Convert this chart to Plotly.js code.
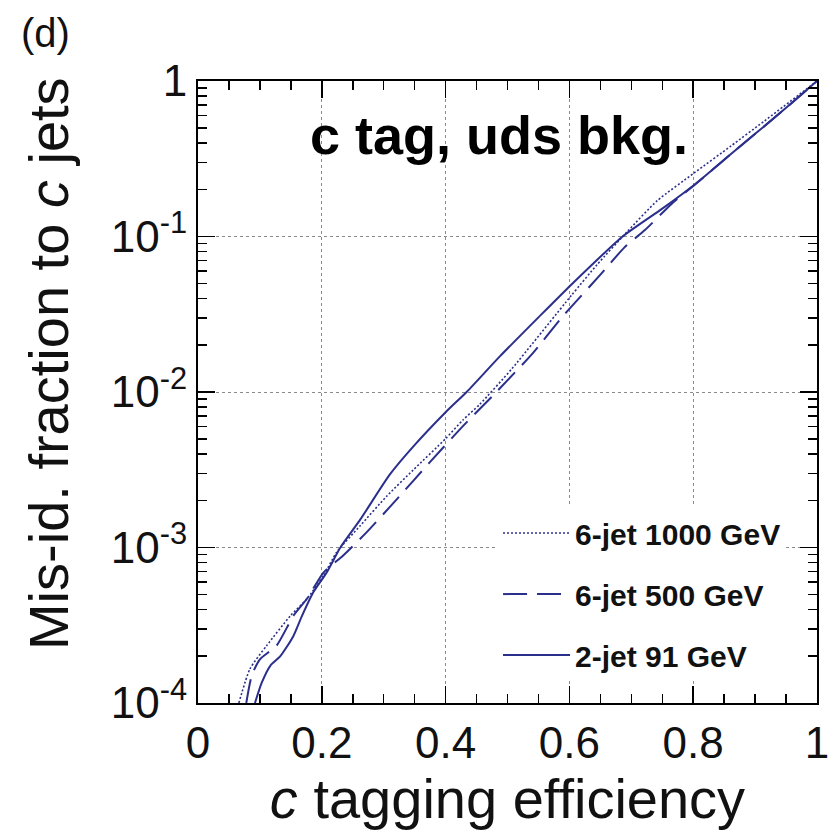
<!DOCTYPE html>
<html>
<head>
<meta charset="utf-8">
<script src="https://cdn.plot.ly/plotly-3.0.1.min.js"></script>
<style>html,body{margin:0;padding:0;background:#fff;}#chart{width:834px;height:834px;}</style>
</head>
<body>
<div id="chart"></div>
<script>
// ---- data ----
const seriesNames = ["6-jet 1000 GeV", "6-jet 500 GeV", "2-jet 91 GeV"];

const eff1000 = [0.066, 0.084, 0.111, 0.149, 0.176, 0.203, 0.224, 0.262, 0.305, 0.348, 0.400, 0.428, 0.455, 0.507, 0.603, 0.645, 0.694, 0.742, 0.802, 0.861, 0.915, 1.000];
const mis1000 = [1.00e-4, 1.66e-4, 2.34e-4, 3.63e-4, 4.68e-4, 6.61e-4, 9.33e-4, 1.38e-3, 2.14e-3, 3.16e-3, 5.01e-3, 6.61e-3, 8.32e-3, 1.41e-2, 4.17e-2, 6.61e-2, 1.08e-1, 1.70e-1, 2.57e-1, 3.82e-1, 5.53e-1, 1.0];

const eff500 = [0.078, 0.087, 0.100, 0.127, 0.154, 0.176, 0.203, 0.235, 0.273, 0.321, 0.375, 0.428, 0.482, 0.541, 0.590, 0.649, 0.689, 0.722, 0.765, 0.803, 0.861, 0.942, 1.000];
const mis500 = [1.00e-4, 1.51e-4, 1.91e-4, 2.34e-4, 3.63e-4, 4.68e-4, 6.92e-4, 8.91e-4, 1.26e-3, 2.04e-3, 3.55e-3, 6.03e-3, 1.00e-2, 1.78e-2, 3.09e-2, 5.62e-2, 8.51e-2, 1.10e-1, 1.62e-1, 2.16e-1, 3.39e-1, 6.31e-1, 1.0];

const eff91 = [0.092, 0.103, 0.117, 0.133, 0.154, 0.168, 0.186, 0.208, 0.230, 0.262, 0.310, 0.348, 0.400, 0.434, 0.488, 0.550, 0.603, 0.686, 0.750, 0.803, 0.861, 0.942, 1.000];
const mis91 = [1.00e-4, 1.35e-4, 1.74e-4, 2.00e-4, 2.69e-4, 3.63e-4, 5.13e-4, 6.92e-4, 1.00e-3, 1.51e-3, 2.95e-3, 4.47e-3, 7.41e-3, 1.00e-2, 1.70e-2, 3.02e-2, 4.90e-2, 1.00e-1, 1.51e-1, 2.17e-1, 3.39e-1, 6.31e-1, 1.0];

const xTickVals = [0, 0.2, 0.4, 0.6, 0.8, 1];
const xTickText = ["0", "0.2", "0.4", "0.6", "0.8", "1"];
const yTickVals = [1e-4, 1e-3, 1e-2, 1e-1, 1];
const yTickText = ["10<sup>-4</sup>", "10<sup>-3</sup>", "10<sup>-2</sup>", "10<sup>-1</sup>", "1"];

// ---- styling ----
const FONT = "Liberation Sans, Arial, sans-serif";
const NAVY = "#2b2f8c";

const traces = [
  {x: eff1000, y: mis1000, name: seriesNames[0], mode: "lines", legendgroup: "a",
   line: {color: NAVY, width: 1.6, dash: "2px,2px", shape: "spline", smoothing: 0.6}},
  {x: eff500, y: mis500, name: seriesNames[1], mode: "lines", legendgroup: "b",
   line: {color: NAVY, width: 2, dash: "24px,10px", shape: "spline", smoothing: 0.6}},
  {x: eff91, y: mis91, name: seriesNames[2], mode: "lines", legendgroup: "c",
   line: {color: NAVY, width: 2, shape: "spline", smoothing: 0.6}}
];

const axisCommon = {
  ticks: "inside", ticklen: 17, tickwidth: 1.5, tickcolor: "#000",
  showline: true, linewidth: 2, linecolor: "#000", mirror: "ticks",
  showgrid: true, gridcolor: "#8a8a8a", gridwidth: 1, griddash: "dot",
  zeroline: false, tickfont: {family: FONT, size: 44, color: "#111"}
};

const layout = {
  width: 834, height: 834,
  margin: {l: 198, r: 17, t: 81, b: 131},
  paper_bgcolor: "#fff", plot_bgcolor: "#fff",
  showlegend: true,
  legend: {
    x: 0.4847, y: 0.315, xanchor: "left", yanchor: "top",
    bgcolor: "#fff", borderwidth: 0, tracegroupgap: 19, itemwidth: 67,
    font: {family: FONT, size: 30, color: "#111", weight: "bold"}
  },
  xaxis: Object.assign({}, axisCommon, {
    range: [0, 1], tickmode: "array", tickvals: xTickVals, ticktext: xTickText,
    minor: {dtick: 0.05, tick0: 0, ticks: "inside", ticklen: 9, tickwidth: 1.5, tickcolor: "#000", showgrid: false},
    title: {text: "<i>c</i> tagging efficiency", font: {family: FONT, size: 56, color: "#111"}, standoff: 1}
  }),
  yaxis: Object.assign({}, axisCommon, {
    type: "log", range: [-4, 0], tickmode: "array", tickvals: yTickVals, ticktext: yTickText,
    minor: {dtick: "D1", ticks: "inside", ticklen: 9, tickwidth: 1.5, tickcolor: "#000", showgrid: false}
  }),
  annotations: [
    {text: "(d)", xref: "paper", yref: "paper", x: -0.2456, y: 1.077, xanchor: "center", yanchor: "middle",
     showarrow: false, font: {family: FONT, size: 40, color: "#111"}},
    {text: "<b>c tag, uds bkg.</b>", xref: "paper", yref: "paper", x: 0.486, y: 0.913,
     xanchor: "center", yanchor: "middle", showarrow: false,
     font: {family: FONT, size: 54, color: "#000"}},
    {text: "Mis-id. fraction to <i>c</i> jets", xref: "paper", yref: "paper", x: -0.2423, y: 0.545,
     xanchor: "center", yanchor: "middle",
     textangle: -90, showarrow: false, font: {family: FONT, size: 56, color: "#111"}}
  ]
};

Plotly.newPlot("chart", traces, layout, {displayModeBar: false, staticPlot: true});
</script>
</body>
</html>
